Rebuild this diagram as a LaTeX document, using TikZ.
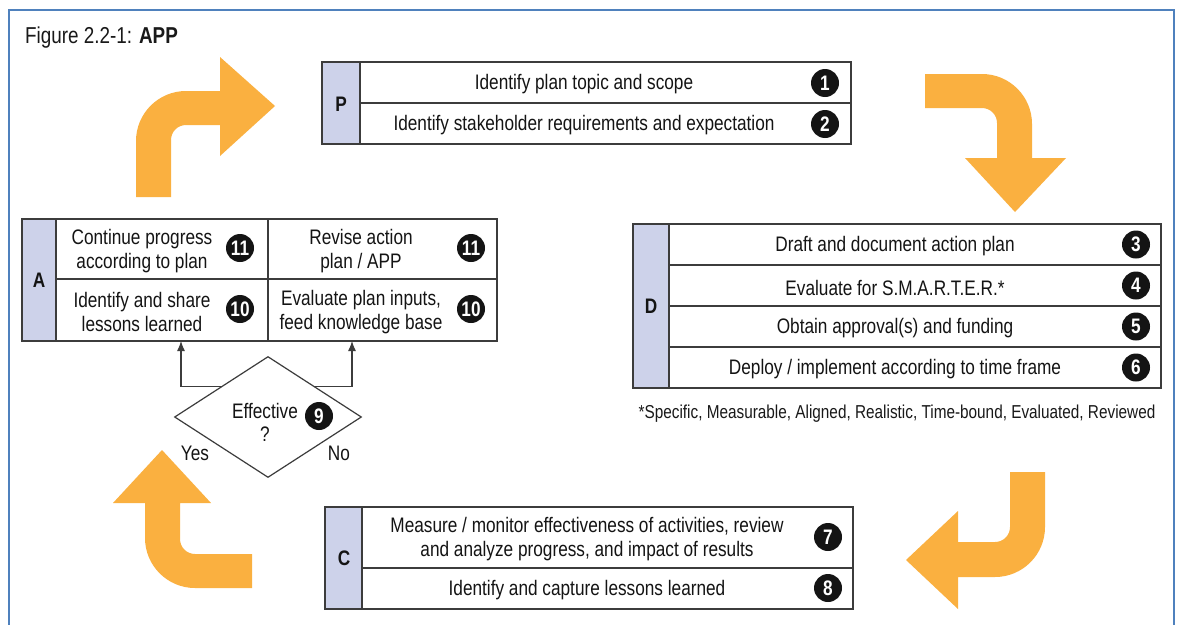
\documentclass[tikz,border=0pt]{standalone}
\usepackage{fontspec}
\setmainfont{Liberation Sans}[FakeStretch=0.82]
\usetikzlibrary{shapes.geometric,arrows.meta}
\definecolor{frameblue}{RGB}{79,129,189}
\definecolor{colfill}{RGB}{205,210,234}
\definecolor{arroworange}{RGB}{250,176,64}
\definecolor{boxline}{RGB}{60,60,60}
\definecolor{numfill}{RGB}{20,20,20}
\tikzset{
  txt/.style={font=\fontsize{21}{24}\selectfont, inner sep=0pt, align=center, text=black!92},
  lbl/.style={font=\bfseries\fontsize{21}{24}\selectfont, inner sep=0pt, text=black!92},
  numbadge/.style={circle, fill=numfill, text=white, font=\bfseries\fontsize{21}{21}\selectfont, inner sep=0pt, minimum size=28pt},
  tbl/.style={draw=boxline, line width=1.3pt},
  colbg/.style={fill=colfill},
  orangearrow/.style={fill=arroworange},
  conn/.style={draw=boxline, line width=1.2pt, -{Latex[length=10pt,width=8pt]}},
}
\begin{document}
\begin{tikzpicture}[x=1pt,y=-1pt]
\useasboundingbox (0,0) rectangle (1180,624);
\fill[white] (0,0) rectangle (1180,624);
\draw[frameblue, line width=2.5pt] (9,630) -- (9,10) -- (1174,10) -- (1174,630);

% title
\node[anchor=base west, inner sep=0pt, font=\fontsize{23}{26}\selectfont, text=black!90] (title) at (25,43) {Figure 2.2-1: \textbf{APP}};

% orange arrows
\fill[orangearrow] (136,197) -- (136,141) .. controls (136,113.4) and (158.4,91) .. (186,91) -- (220,91) -- (220,57) -- (275,106) -- (220,156) -- (220,125) -- (186,125) .. controls (177.7,125) and (171,131.7) .. (171,140) -- (171,197) -- cycle;
\fill[orangearrow] (925,74) -- (982,74) .. controls (1009.6,74) and (1032,96.4) .. (1032,124) -- (1032,158) -- (1066,158) -- (1015,212) -- (965,158) -- (997,158) -- (997,123) .. controls (997,114.7) and (990.3,108) .. (982,108) -- (925,108) -- cycle;
\fill[orangearrow] (1010,472) -- (1045,472) -- (1045,527) .. controls (1045,554.6) and (1022.6,577) .. (995,577) -- (958,577) -- (958,609) -- (906,560) -- (958,511) -- (958,542) -- (995,542) .. controls (1003.3,542) and (1010,535.3) .. (1010,527) -- cycle;
\fill[orangearrow] (252,554) -- (195,554) .. controls (186.7,554) and (180,547.3) .. (180,539) -- (180,503) -- (211,503) -- (162,450) -- (113,503) -- (145,503) -- (145,538) .. controls (145,565.6) and (167.4,588) .. (195,588) -- (252,588) -- cycle;

% P box
\fill[colbg] (322,62) rectangle (360,144);
\draw[tbl] (322,62) rectangle (851,144);
\draw[tbl] (360,62) -- (360,144);
\draw[tbl] (360,103) -- (851,103);
\node[lbl] (pl) at (341,104) {P};
\node[txt] (p1) at (584,84.5) {Identify plan topic and scope};
\node[txt] (p2) at (584,125.5) {Identify stakeholder requirements and expectation};
\node[numbadge] (n1) at (825,83) {1};
\node[numbadge] (n2) at (825,124) {2};

% D box
\fill[colbg] (633,224) rectangle (669,388);
\draw[tbl] (633,224) rectangle (1161,388);
\draw[tbl] (669,224) -- (669,388);
\draw[tbl] (669,265) -- (1161,265);
\draw[tbl] (669,306) -- (1161,306);
\draw[tbl] (669,347) -- (1161,347);
\node[lbl] (dl) at (651,306) {D};
\node[txt] (d3) at (895,246.5) {Draft and document action plan};
\node[txt] (d4) at (895,287.5) {Evaluate for S.M.A.R.T.E.R.*};
\node[txt] (d5) at (895,328.5) {Obtain approval(s) and funding};
\node[txt] (d6) at (895,369.5) {Deploy / implement according to time frame};
\node[numbadge] (n3) at (1136,244.5) {3};
\node[numbadge] (n4) at (1136,285.5) {4};
\node[numbadge] (n5) at (1136,326.5) {5};
\node[numbadge] (n6) at (1136,367.5) {6};
\node[inner sep=0pt, font=\fontsize{18.7}{21}\selectfont, text=black!90] (foot) at (897,414) {*Specific, Measurable, Aligned, Realistic, Time-bound, Evaluated, Reviewed};

% C box
\fill[colbg] (325,507) rectangle (362,609);
\draw[tbl] (325,507) rectangle (853,609);
\draw[tbl] (362,507) -- (362,609);
\draw[tbl] (362,568) -- (853,568);
\node[lbl] (cl) at (344,558) {C};
\node[txt] (c7) at (587,539) {Measure / monitor effectiveness of activities, review\\and analyze progress, and impact of results};
\node[txt] (c8) at (587,590) {Identify and capture lessons learned};
\node[numbadge] (n7) at (828,537) {7};
\node[numbadge] (n8) at (828,588) {8};

% A box
\fill[colbg] (22,219) rectangle (56,341);
\draw[tbl] (22,219) rectangle (497,341);
\draw[tbl] (56,219) -- (56,341);
\draw[tbl] (268,219) -- (268,341);
\draw[tbl] (56,279) -- (497,279);
\node[lbl] (al) at (39,280) {A};
\node[txt] (a11l) at (142,251) {Continue progress\\according to plan};
\node[txt] (a11r) at (361,251) {Revise action\\plan / APP};
\node[txt] (a10l) at (142,312) {Identify and share\\lessons learned};
\node[txt] (a10r) at (361,312) {Evaluate plan inputs,\\feed knowledge base};
\node[numbadge] (n11l) at (240,248) {11};
\node[numbadge] (n11r) at (471,248) {11};
\node[numbadge] (n10l) at (240,309) {10};
\node[numbadge] (n10r) at (471,309) {10};

% decision
\node[diamond, draw=boxline, line width=1.2pt, minimum width=187pt, minimum height=121pt, inner sep=0pt] (dia) at (268,417) {};
\node[txt] (eff) at (265,411) {Effective};
\node[txt] (q) at (265,434) {?};
\node[numbadge] (n9) at (319,416) {9};
\node[txt] (yes) at (195,453) {Yes};
\node[txt] (no) at (339,453) {No};
\coordinate (yesin) at (181,341);
\coordinate (noin) at (352,341);
\draw[conn] (dia.north west) -| (yesin);
\draw[conn] (dia.north east) -| (noin);
\end{tikzpicture}
\end{document}
